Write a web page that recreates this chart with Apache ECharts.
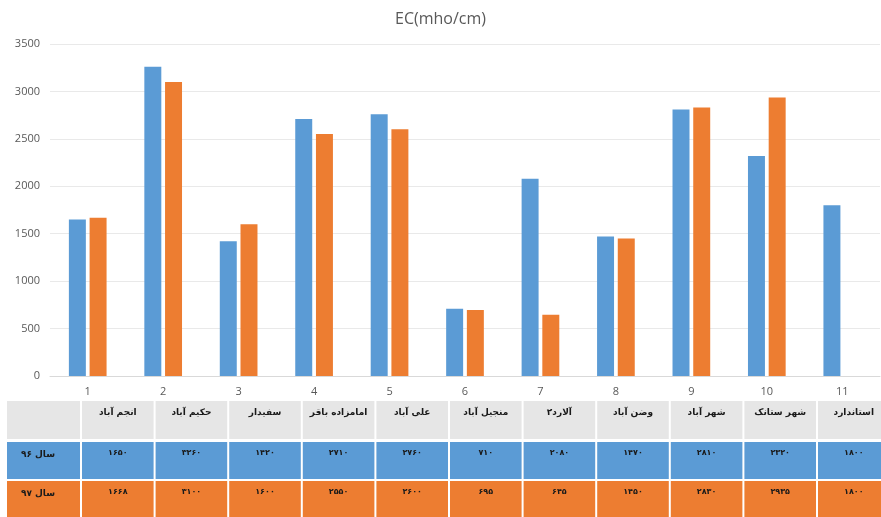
<!DOCTYPE html>
<html>
<head>
<meta charset="utf-8">
<script src="https://cdn.jsdelivr.net/npm/echarts@6/dist/echarts.min.js"></script>
<style>
  html, body { margin: 0; padding: 0; background: #ffffff; }
  #chart { width: 881px; height: 517px; }
</style>
</head>
<body>
<div id="chart"></div>
<script>
// Station numbers on the category axis
const categories = ['1', '2', '3', '4', '5', '6', '7', '8', '9', '10', '11'];
// Station names shown in the table header
const stationNames = ['انجم آباد', 'حکیم آباد', 'سفیدار', 'امامزاده باقر', 'علی آباد', 'منجیل آباد', 'آلارد۲', 'وضن آباد', 'شهر آباد', 'شهر ستانک', 'استاندارد'];
// Row labels for the two years
const seriesNames = ['سال ۹۶', 'سال ۹۷'];
// EC values per station
const year96 = [1650, 3260, 1420, 2710, 2760, 710, 2080, 1470, 2810, 2320, 1800];
const year97 = [1668, 3100, 1600, 2550, 2600, 695, 645, 1450, 2830, 2935, 1800];
// The standard limit is drawn once, as a single bar
const year97Bars = year97.map((v, i) => (stationNames[i] === 'استاندارد' ? null : v));
const yTicks = [0, 500, 1000, 1500, 2000, 2500, 3000, 3500];

const BLUE = '#5b9bd5';
const ORANGE = '#ed7d31';
const HEADER_GRAY = '#e6e6e6';

const faDigits = '۰۱۲۳۴۵۶۷۸۹';
const toFa = n => String(n).replace(/[0-9]/g, d => faDigits[d]);

// Data table below the plot
const table = { left: 7, firstColW: 75, colW: 73.6, gap: 2, rows: [{ y: 401, h: 38 }, { y: 442, h: 37 }, { y: 481, h: 38 }] };
const graphics = [];
const rowFills = [HEADER_GRAY, BLUE, ORANGE];
const rowValues = [null, year96, year97];
for (let r = 0; r < 3; r++) {
  const row = table.rows[r];
  // first (label) column
  graphics.push({ type: 'rect', shape: { x: table.left, y: row.y, width: table.firstColW - table.gap, height: row.h }, style: { fill: rowFills[r] }, silent: true });
  if (r > 0) {
    graphics.push({ type: 'text', x: table.left + 31, y: row.y + 13, style: { text: seriesNames[r - 1], fill: '#1a1a1a', font: 'bold 9px "DejaVu Sans"', align: 'center', verticalAlign: 'middle' }, silent: true });
  }
  for (let c = 0; c < stationNames.length; c++) {
    const x = table.left + table.firstColW + c * table.colW;
    graphics.push({ type: 'rect', shape: { x: x, y: row.y, width: table.colW - table.gap, height: row.h }, style: { fill: rowFills[r] }, silent: true });
    const text = r === 0 ? stationNames[c] : toFa(rowValues[r][c]);
    graphics.push({ type: 'text', x: x + (table.colW - table.gap) / 2, y: row.y + (r === 0 ? 12 : 11), style: { text: text, fill: '#1a1a1a', font: r === 0 ? 'bold 9px "DejaVu Sans"' : 'bold 8px "DejaVu Sans"', align: 'center', verticalAlign: 'middle' }, silent: true });
  }
}

const chart = echarts.init(document.getElementById('chart'), null, { renderer: 'canvas' });
chart.setOption({
  animation: false,
  backgroundColor: '#ffffff',
  title: {
    text: 'EC(mho/cm)',
    left: 'center',
    top: 6,
    textStyle: { fontFamily: 'Open Sans', fontSize: 16, fontWeight: 'normal', color: '#595959' }
  },
  grid: { left: 50, right: 1, top: 44, bottom: 141, containLabel: false },
  xAxis: {
    type: 'category',
    data: categories,
    axisLine: { lineStyle: { color: '#d9d9d9' } },
    axisTick: { show: false },
    axisLabel: { color: '#595959', fontFamily: 'Open Sans', fontSize: 11, margin: 10 }
  },
  yAxis: {
    type: 'value',
    min: yTicks[0],
    max: yTicks[yTicks.length - 1],
    interval: yTicks[1] - yTicks[0],
    axisLine: { show: false },
    axisTick: { show: false },
    splitLine: { lineStyle: { color: '#e9e9e9' } },
    axisLabel: { color: '#595959', fontFamily: 'Open Sans', fontSize: 11, margin: 10, formatter: v => String(v) }
  },
  series: [
    { name: seriesNames[0], type: 'bar', data: year96, barWidth: '22.5%', barGap: '22%', itemStyle: { color: BLUE } },
    { name: seriesNames[1], type: 'bar', data: year97Bars, barWidth: '22.5%', barGap: '22%', itemStyle: { color: ORANGE } }
  ],
  graphic: graphics
});
</script>
</body>
</html>
